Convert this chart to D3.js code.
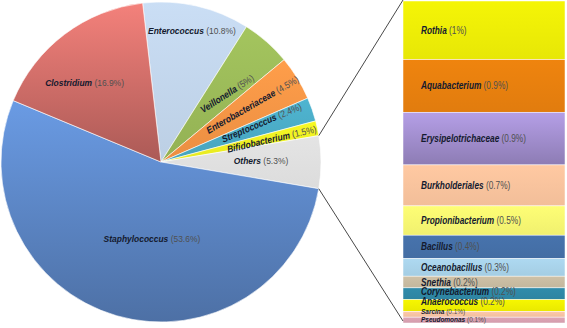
<!DOCTYPE html>
<html>
<head>
<meta charset="utf-8">
<script src="https://cdn.jsdelivr.net/npm/d3@7"></script>
<style>
  body { margin: 0; background: #fff; }
  text { font-family: "Liberation Sans", Arial, sans-serif; }
</style>
</head>
<body>
<svg id="chart"></svg>
<script>
// main pie, clockwise from the top
const pieNames = ["Enterococcus", "Veillonella", "Enterobacteriaceae", "Streptococcus",
  "Bifidobacterium", "Others", "Staphylococcus", "Clostridium"];
const pieValues = [10.8, 5, 4.5, 2.4, 1.5, 5.3, 53.6, 16.9];

// breakdown of "Others", top to bottom
const otherNames = ["Rothia", "Aquabacterium", "Erysipelotrichaceae", "Burkholderiales",
  "Propionibacterium", "Bacillus", "Oceanobacillus", "Snethia", "Corynebacterium",
  "Anaerococcus", "Sarcina", "Pseudomonas"];
const otherValues = [1, 0.9, 0.9, 0.7, 0.5, 0.4, 0.3, 0.2, 0.2, 0.2, 0.1, 0.1];

const pieColors = ["#c3d6ec", "#9bbb59", "#f79646", "#4bacc6", "#eef022", "#e0e0e0", "#5a84c2", "#cc6c67"];
const pieShade = [0.1, 0.15, 0.15, 0.15, 0.1, 0.05, 0.45, 0.5];
const otherColors = ["#eeee06", "#e8800e", "#a08ccc", "#f9c39d", "#f7f772", "#4570a8", "#a9d3ea",
  "#c9bca2", "#2f88a6", "#f0f000", "#f7c3a4", "#d9a1b1"];

const width = 567;
const height = 328;
const cx = 161, cy = 162, radius = 160;
const startDeg = -6.6;

const svg = d3.select("#chart").attr("width", width).attr("height", height);
const defs = svg.append("defs");

// vertical shading like the original office chart
function shade(id, color, k) {
  const g = defs.append("linearGradient").attr("id", id)
    .attr("x1", 0).attr("y1", 0).attr("x2", 0).attr("y2", 1);
  g.append("stop").attr("offset", "0%").attr("stop-color", d3.color(color).brighter(k));
  g.append("stop").attr("offset", "100%").attr("stop-color", d3.color(color).darker(k));
}

const pie = d3.pie().sort(null)
  .startAngle(startDeg * Math.PI / 180)
  .endAngle((startDeg + 360) * Math.PI / 180);
const arcs = pie(pieValues);
const arc = d3.arc().innerRadius(0).outerRadius(radius);

const gPie = svg.append("g").attr("transform", `translate(${cx},${cy})`);

gPie.selectAll("path")
  .data(arcs)
  .join("path")
  .each((d, i) => shade("g" + i, pieColors[i], pieShade[i]))
  .attr("d", arc)
  .attr("fill", (d, i) => `url(#g${i})`)
  .attr("stroke", "#fff")
  .attr("stroke-width", 0.6);

// label placement: radius, angle nudge from slice middle, rotation
const labelPlace = {
  Enterococcus: { r: 135, da: 0.4, rot: 0 },
  Veillonella: { r: 95, da: 2.8, rot: -33 },
  Enterobacteriaceae: { r: 108, da: -0.4, rot: -30 },
  Streptococcus: { r: 108, da: -2.1, rot: -23 },
  Bifidobacterium: { r: 113, da: 0.5, rot: -13 },
  Others: { r: 100, da: -0.6, rot: 0 },
  Staphylococcus: { r: 77, da: -9.3, rot: 0 },
  Clostridium: { r: 110, da: -7, rot: 0 }
};

function nameLabel(sel, name, pct, size) {
  sel.append("tspan")
    .attr("font-weight", "bold").attr("font-style", "italic").attr("fill", "#141a2e")
    .text(name);
  sel.append("tspan").attr("fill", "#505050").text(` (${pct}%)`);
  sel.attr("font-size", size);
}

arcs.forEach((d, i) => {
  const name = pieNames[i];
  const p = labelPlace[name];
  const a = (d.startAngle + d.endAngle) / 2 + p.da * Math.PI / 180;
  const x = Math.sin(a) * p.r;
  const y = -Math.cos(a) * p.r;
  const t = gPie.append("text")
    .attr("text-anchor", "middle")
    .attr("dy", "0.35em")
    .attr("transform", `translate(${x},${y}) rotate(${p.rot}) scale(0.88,1)`);
  nameLabel(t, name, d.data, 9.6);
});

// breakdown column
const panelX = 403, panelW = 162;
const y = d3.scaleLinear()
  .domain([0, d3.sum(otherValues)])
  .range([1, 323]);
const stacked = d3.cumsum(otherValues);

otherColors.forEach((c, i) => shade("o" + i, c, i === 2 ? 0.35 : 0.08));

const gPanel = svg.append("g");
gPanel.selectAll("rect")
  .data(otherValues)
  .join("rect")
  .attr("x", panelX)
  .attr("width", panelW)
  .attr("y", (d, i) => y(stacked[i] - d))
  .attr("height", (d) => y(d) - y(0))
  .attr("fill", (d, i) => `url(#o${i})`)
  .attr("stroke", "#fff")
  .attr("stroke-width", 0.5);

// thin bands at the bottom: labels sit a little higher than the band middle
const labelNudge = { Corynebacterium: -2, Anaerococcus: -4, Sarcina: -3, Pseudomonas: -1 };

otherValues.forEach((v, i) => {
  const name = otherNames[i];
  const mid = (y(stacked[i] - v) + y(stacked[i])) / 2 + (labelNudge[name] || 0);
  const t = gPanel.append("text")
    .attr("dy", "0.35em")
    .attr("transform", `translate(${panelX + 18},${mid}) scale(0.83,1)`);
  nameLabel(t, name, v, v < 0.15 ? 7.8 : 10);
});

// connector lines from the "Others" slice to the column
const others = arcs[pieNames.indexOf("Others")];
const edge = (a) => [cx + Math.sin(a) * radius, cy - Math.cos(a) * radius];
const [x1, y1] = edge(others.startAngle);
const [x2, y2] = edge(others.endAngle);
svg.append("line")
  .attr("x1", x1).attr("y1", y1).attr("x2", panelX).attr("y2", 0)
  .attr("stroke", "#333").attr("stroke-width", 0.9);
svg.append("line")
  .attr("x1", x2).attr("y1", y2).attr("x2", panelX).attr("y2", y.range()[1] - 2)
  .attr("stroke", "#333").attr("stroke-width", 0.9);
</script>
</body>
</html>
